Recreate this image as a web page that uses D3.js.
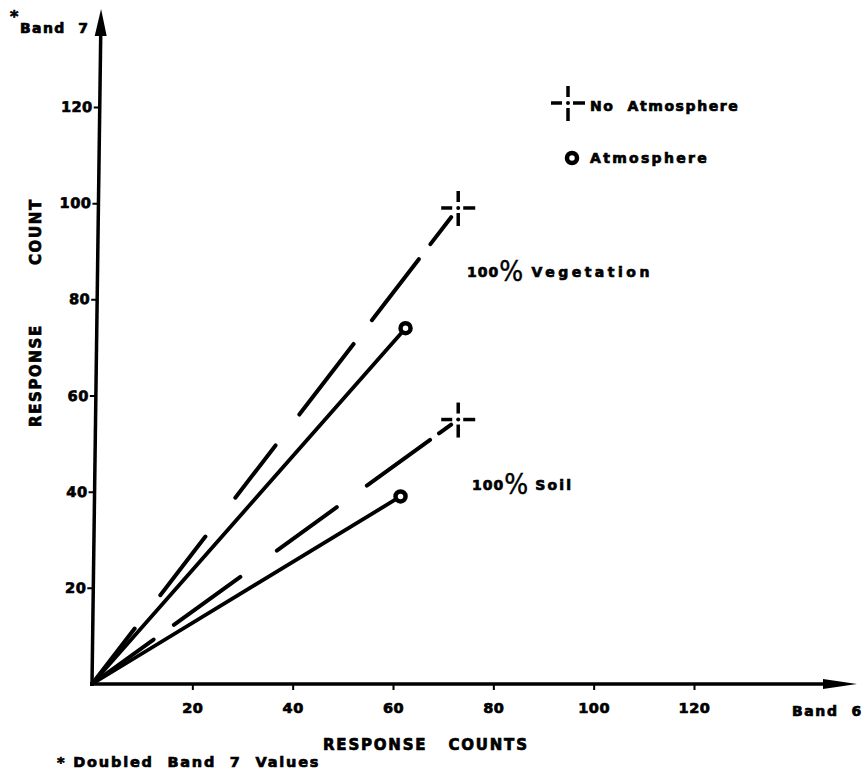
<!DOCTYPE html>
<html>
<head>
<meta charset="utf-8">
<script src="https://cdn.jsdelivr.net/npm/d3@7"></script>
<style>
  html, body { margin: 0; padding: 0; background: #fff; }
  svg text { font-family: "DejaVu Sans", "Liberation Sans", sans-serif; font-weight: bold; fill: #000; stroke: #000; stroke-width: 0.7px; white-space: pre; }
</style>
</head>
<body>
<svg id="chart" width="866" height="776"></svg>
<script>
// Band 6 / Band 7 response counts for pure targets, with and without atmosphere
const targets = ["100% Vegetation", "100% Soil"];
const noAtmBand6 = [73, 73];
const noAtmBand7 = [99, 55];
const atmBand6 = [62.5, 61.5];
const atmBand7 = [74, 39];

const xTicks = [20, 40, 60, 80, 100, 120];
const yTicks = [20, 40, 60, 80, 100, 120];

// hand-drawn dash rhythm for the "no atmosphere" rays
const dashPatterns = ["70 42 74 49 66 39 89 30 77 19 34 40", "76 25 82 45 74 37 78 11 15 40"];

const svg = d3.select("#chart");
const ink = "#000";

const x = d3.scaleLinear().domain([0, 120]).range([92, 694]);
const y = d3.scaleLinear().domain([0, 120]).range([684, 107]);

const xEnd = 857;   // tip of the Band 6 arrow
const yEnd = 9;     // tip of the Band 7 arrow
const lean = 0.77;  // the vertical axis leans slightly to the right

// ---- X axis ----
const xAxisG = svg.append("g").attr("transform", `translate(0,${y(0)})`);
xAxisG.call(d3.axisBottom(x).tickValues(xTicks).tickSize(6).tickPadding(13).tickFormat(d3.format("d")));
xAxisG.select(".domain").remove();
xAxisG.selectAll(".tick line").attr("stroke", ink).attr("stroke-width", 2);
xAxisG.selectAll(".tick text")
  .style("font-size", "14.5px").style("letter-spacing", "0.5px").attr("fill", ink);
xAxisG.append("line")
  .attr("x1", x(0) - 2).attr("x2", xEnd - 20).attr("y1", 0).attr("y2", 0)
  .attr("stroke", ink).attr("stroke-width", 3.5);
xAxisG.append("path")
  .attr("d", `M${xEnd},0 L${xEnd - 34},-5 L${xEnd - 34},5 Z`).attr("fill", ink);

// ---- Y axis (skewed to follow the lean of the drawn axis) ----
const yAxisG = svg.append("g")
  .attr("transform", `translate(${x(0)},${y(0)}) skewX(${-lean}) translate(0,${-y(0)})`);
yAxisG.call(d3.axisLeft(y).tickValues(yTicks).tickSize(6).tickPadding(1).tickFormat(d3.format("d")));
yAxisG.select(".domain").remove();
yAxisG.selectAll(".tick line").attr("stroke", ink).attr("stroke-width", 2);
yAxisG.selectAll(".tick text")
  .style("font-size", "14.5px").style("letter-spacing", "0.5px").attr("fill", ink);
yAxisG.append("line")
  .attr("x1", 0).attr("x2", 0).attr("y1", y(0) + 2).attr("y2", yEnd + 20)
  .attr("stroke", ink).attr("stroke-width", 3.5);
yAxisG.append("path")
  .attr("d", `M0,${yEnd} L-6,${yEnd + 27} L6,${yEnd + 27} Z`).attr("fill", ink);

// ---- Rays from the origin ----
const line = d3.line().x(d => x(d[0])).y(d => y(d[1]));
const plot = svg.append("g");

targets.forEach((t, i) => {
  plot.append("path")
    .attr("d", line([[0, 0], [noAtmBand6[i], noAtmBand7[i]]]))
    .attr("fill", "none").attr("stroke", ink).attr("stroke-width", 4)
    .attr("stroke-linecap", "round")
    .attr("stroke-dasharray", dashPatterns[i]);
  plot.append("path")
    .attr("d", line([[0, 0], [atmBand6[i], atmBand7[i]]]))
    .attr("fill", "none").attr("stroke", ink).attr("stroke-width", 3.8)
    .attr("stroke-linecap", "round");
});

// ---- Markers ----
function crossMark(g, cx, cy) {
  const segs = [[0, -17, 0, -6], [0, 5, 0, 18], [-17, 0, -6, 0], [5, 0, 17, 0]];
  segs.forEach(s => g.append("line")
    .attr("x1", cx + s[0]).attr("y1", cy + s[1]).attr("x2", cx + s[2]).attr("y2", cy + s[3])
    .attr("stroke", ink).attr("stroke-width", 3.5));
  g.append("circle").attr("cx", cx).attr("cy", cy).attr("r", 2).attr("fill", ink);
}
function ringMark(g, cx, cy) {
  g.append("circle").attr("cx", cx).attr("cy", cy).attr("r", 5)
    .attr("fill", "#fff").attr("stroke", ink).attr("stroke-width", 4.5);
}

targets.forEach((t, i) => {
  crossMark(plot, x(noAtmBand6[i]), y(noAtmBand7[i]));
  ringMark(plot, x(atmBand6[i]), y(atmBand7[i]));
});

// ---- Target labels ----
const labelPos = [[467, 277], [472, 490]];
const nameSpacing = ["3.5px", "2.2px"];
targets.forEach((t, i) => {
  const [num, name] = t.split("% ");
  const txt = svg.append("text").attr("x", labelPos[i][0]).attr("y", labelPos[i][1])
    .style("font-size", "14px").style("letter-spacing", "1px");
  txt.append("tspan").text(num);
  txt.append("tspan").text("%").attr("dy", 4)
    .style("font-family", "'Liberation Sans Narrow', 'DejaVu Sans Condensed', sans-serif")
    .style("font-size", "28px").style("font-weight", "normal").style("letter-spacing", "0px")
    .style("stroke-width", "0.4px");
  txt.append("tspan").text(" " + name).attr("dy", -4).style("letter-spacing", nameSpacing[i]);
});

// ---- Legend ----
const legend = svg.append("g");
crossMark(legend, 568, 103);
legend.append("text").attr("x", 590).attr("y", 111)
  .style("font-size", "14px").style("letter-spacing", "1.6px").text("No  Atmosphere");
ringMark(legend, 572, 158);
legend.append("text").attr("x", 590).attr("y", 163)
  .style("font-size", "14px").style("letter-spacing", "2.3px").text("Atmosphere");

// ---- Axis titles and notes ----
svg.append("text").attr("x", 10).attr("y", 22).style("font-size", "16px").text("*");
svg.append("text").attr("x", 20).attr("y", 33)
  .style("font-size", "14px").style("letter-spacing", "1.4px").text("Band  7");
svg.append("text").attr("x", 792).attr("y", 716)
  .style("font-size", "14px").style("letter-spacing", "1.6px").text("Band  6");
svg.append("text").attr("x", 323).attr("y", 750)
  .style("font-size", "15px").style("letter-spacing", "1.8px").text("RESPONSE   COUNTS");
svg.append("text").attr("x", 57).attr("y", 767)
  .style("font-size", "14.5px").style("letter-spacing", "1.8px").text("* Doubled  Band  7  Values");

const yTitle = svg.append("g").attr("transform", "translate(41,0) rotate(-90)");
yTitle.append("text").attr("x", -427).attr("y", 0)
  .style("font-size", "15px").style("letter-spacing", "1.6px").text("RESPONSE");
yTitle.append("text").attr("x", -265).attr("y", 0)
  .style("font-size", "15px").style("letter-spacing", "1.6px").text("COUNT");
</script>
</body>
</html>
